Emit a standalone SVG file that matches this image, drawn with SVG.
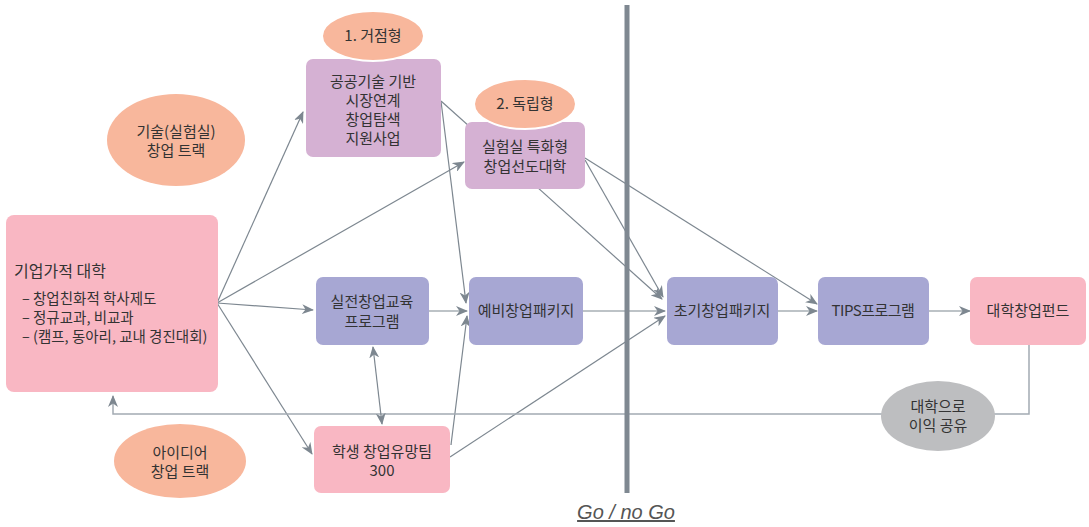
<svg xmlns="http://www.w3.org/2000/svg" width="1089" height="527" viewBox="0 0 1089 527">
<defs>
<marker id="ah" viewBox="0 0 12 10" refX="11" refY="5" markerWidth="12" markerHeight="10" markerUnits="userSpaceOnUse" orient="auto-start-reverse">
<path d="M0,0 L12,5 L0,10 L3.5,5 z" fill="#7d8790"/>
</marker>
<marker id="ah2" viewBox="0 0 12 10" refX="11" refY="5" markerWidth="12" markerHeight="10" markerUnits="userSpaceOnUse" orient="auto-start-reverse">
<path d="M0,0 L12,5 L0,10 L3.5,5 z" fill="#7d8790"/>
</marker>
</defs>
<style>
text{font-family:"Noto Sans CJK KR","Noto Sans",sans-serif;fill:#333333;font-size:15px}
.c{text-anchor:middle}
.pink{fill:#f9b7c3}
.purple{fill:#d5b1d3}
.blue{fill:#a7a7d3}
.salmon{fill:#f8b79c;stroke:#ffffff;stroke-width:2}
.gray{fill:#bdbec0}
.ln{stroke:#7d8790;stroke-width:1.2;fill:none}
.arr{marker-end:url(#ah)}
.fb{stroke:#a3abb3;stroke-width:1.5;fill:none}
</style>
<rect width="1089" height="527" fill="#ffffff"/>

<g id="connectors">
<line class="ln arr" x1="441" y1="101" x2="662" y2="299"/>
<line class="ln arr" x1="441" y1="101" x2="466" y2="303"/>
<line class="ln arr" x1="217" y1="303" x2="303" y2="112"/>
<line class="ln arr" x1="217" y1="303" x2="464" y2="162"/>
<line class="ln arr" x1="217" y1="303" x2="313" y2="310"/>
<line class="ln arr" x1="217" y1="303" x2="312" y2="454"/>
<line class="ln arr" x1="585" y1="158" x2="817" y2="304"/>
<line class="ln arr" x1="585" y1="160" x2="663" y2="297"/>
<line class="ln arr" x1="429" y1="311" x2="467" y2="311"/>
<line class="ln arr" x1="583" y1="311" x2="665" y2="311"/>
<line class="ln arr" x1="451" y1="445" x2="467" y2="316"/>
<line class="ln arr" x1="450" y1="457" x2="665" y2="316"/>
<line class="ln arr" x1="778" y1="311" x2="817" y2="311"/>
<line class="ln arr" x1="929" y1="311" x2="970" y2="311"/>
<polyline class="fb" points="1029,345 1029,414 113,414 113,396" marker-end="url(#ah2)"/>
<line class="ln" x1="373" y1="347" x2="382" y2="424" marker-start="url(#ah)" marker-end="url(#ah)"/>
</g>

<g id="gonogo">
<rect x="624.5" y="5" width="5" height="488" fill="#7f8891"/>
<text class="c" x="626" y="519" style="font-family:'Liberation Sans',sans-serif;font-style:italic;font-size:20px;fill:#555;text-decoration:underline">Go / no Go</text>
</g>

<g id="n-univ">
<rect class="pink" x="6" y="215" width="212" height="177" rx="8"/>
<text x="14" y="277" style="font-size:16px">기업가적 대학</text>
<text x="22" y="304" style="font-size:14.5px">– 창업친화적 학사제도</text>
<text x="22" y="323" style="font-size:14.5px">– 정규교과, 비교과</text>
<text x="22" y="342" style="font-size:14.5px">– (캠프, 동아리, 교내 경진대회)</text>
</g>

<g id="n-techtrack">
<ellipse class="salmon" cx="176" cy="140" rx="69" ry="46" style="stroke:none"/>
<text class="c" x="176" y="137">기술(실험실)</text>
<text class="c" x="176" y="156">창업 트랙</text>
</g>

<g id="n-ideatrack">
<ellipse class="salmon" cx="180" cy="461" rx="66" ry="37" style="stroke:none"/>
<text class="c" x="180" y="458">아이디어</text>
<text class="c" x="180" y="477">창업 트랙</text>
</g>

<g id="n-public">
<rect class="purple" x="306" y="59" width="135" height="98" rx="7"/>
<text class="c" x="373" y="87">공공기술 기반</text>
<text class="c" x="373" y="106">시장연계</text>
<text class="c" x="373" y="125">창업탐색</text>
<text class="c" x="373" y="144">지원사업</text>
</g>

<g id="n-hub">
<ellipse class="salmon" cx="373" cy="36" rx="51" ry="25"/>
<text class="c" x="373" y="41">1. 거점형</text>
</g>

<g id="n-lab">
<rect class="purple" x="465" y="122" width="120" height="67" rx="7"/>
<text class="c" x="525" y="152">실험실 특화형</text>
<text class="c" x="525" y="172">창업선도대학</text>
</g>

<g id="n-indep">
<ellipse class="salmon" cx="525" cy="104" rx="51" ry="25"/>
<text class="c" x="525" y="109">2. 독립형</text>
</g>

<g id="n-edu">
<rect class="blue" x="316" y="277" width="113" height="68" rx="7"/>
<text class="c" x="372" y="307">실전창업교육</text>
<text class="c" x="372" y="327">프로그램</text>
</g>

<g id="n-prelim">
<rect class="blue" x="469" y="277" width="114" height="68" rx="7"/>
<text class="c" x="526" y="316">예비창업패키지</text>
</g>

<g id="n-team">
<rect class="pink" x="314" y="426" width="136" height="67" rx="7"/>
<text class="c" x="382" y="457">학생 창업유망팀</text>
<text class="c" x="382" y="476">300</text>
</g>

<g id="n-early">
<rect class="blue" x="667" y="277" width="111" height="68" rx="7"/>
<text class="c" x="722" y="316">초기창업패키지</text>
</g>

<g id="n-tips">
<rect class="blue" x="818" y="277" width="111" height="68" rx="7"/>
<text class="c" x="873" y="316" style="letter-spacing:-0.5px">TIPS프로그램</text>
</g>

<g id="n-fund">
<rect class="pink" x="970" y="277" width="116" height="68" rx="7"/>
<text class="c" x="1028" y="316">대학창업펀드</text>
</g>

<g id="n-share">
<ellipse class="gray" cx="938" cy="416" rx="57" ry="35"/>
<text class="c" x="938" y="412">대학으로</text>
<text class="c" x="938" y="431">이익 공유</text>
</g>
</svg>
